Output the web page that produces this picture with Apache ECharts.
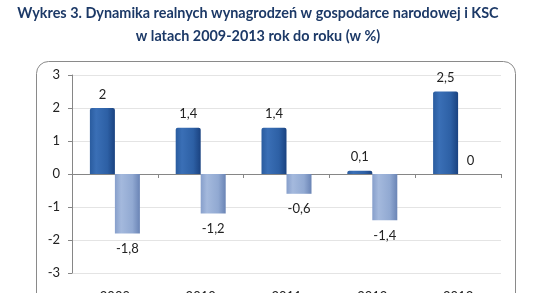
<!DOCTYPE html>
<html>
<head>
<meta charset="utf-8">
<script src="https://cdn.jsdelivr.net/npm/echarts@6/dist/echarts.min.js"></script>
<style>html,body{margin:0;padding:0;background:#fff}#c{width:556px;height:293px}</style>
</head>
<body>
<div id="c"></div>
<script>
var categories = ['2009', '2010', '2011', '2012', '2013'];
var gospodarka = [2, 1.4, 1.4, 0.1, 2.5];
var ksc = [-1.8, -1.2, -0.6, -1.4, 0];
var yTicks = [-3, -2, -1, 0, 1, 2, 3];
var titleLines = ['Wykres 3. Dynamika realnych wynagrodzeń w gospodarce narodowej i KSC', 'w latach 2009-2013 rok do roku (w %)'];

var chart = echarts.init(document.getElementById('c'));
function fmt(p){ return String(p.value).replace('.', ','); }
var font = 'Lato, Open Sans, sans-serif';
var titleStyle = { fontFamily: font, fontWeight: 'bold', fontSize: 14.4, fill: '#1c3967', textAlign: 'center', textVerticalAlign: 'middle' };
chart.setOption({
  animation: false,
  graphic: [{
    type: 'rect', left: 36, top: 61, z: -1,
    shape: { width: 479, height: 260, r: 12 },
    style: { fill: '#fff', stroke: '#8a8a8a', lineWidth: 1 }
  }, {
    type: 'text', x: 258, y: 13,
    style: Object.assign({ text: titleLines[0] }, titleStyle)
  }, {
    type: 'text', x: 258, y: 36,
    style: Object.assign({ text: titleLines[1] }, titleStyle)
  }],
  grid: { left: 72, right: 55, top: 75, bottom: 20, outerBoundsMode: 'none', containLabel: false },
  xAxis: [{
    type: 'category', data: categories,
    axisLine: { onZero: true, lineStyle: { color: '#868686' } },
    axisTick: { show: true, length: 4, lineStyle: { color: '#868686' } },
    axisLabel: { show: false }
  }, {
    type: 'category', data: categories, position: 'bottom',
    axisLine: { show: false, onZero: false }, axisTick: { show: false },
    axisLabel: { margin: 17, fontFamily: font, fontSize: 13, color: '#222' }
  }],
  yAxis: {
    type: 'value', min: yTicks[0], max: yTicks[yTicks.length - 1], interval: 1,
    axisLine: { show: true, lineStyle: { color: '#868686' } },
    axisTick: { show: true, length: 4, lineStyle: { color: '#868686' } },
    axisLabel: { margin: 12, fontFamily: font, fontSize: 13, color: '#222' },
    splitLine: { lineStyle: { color: '#e4e4e4' } }
  },
  series: [{
    name: 'Gospodarka narodowa', type: 'bar', data: gospodarka,
    barWidth: 25, barGap: '0%',
    itemStyle: {
      borderRadius: [2, 2, 0, 0],
      color: new echarts.graphic.LinearGradient(0, 0, 1, 0, [
        { offset: 0, color: '#2a5c9f' }, { offset: 0.25, color: '#3a6fb6' },
        { offset: 0.7, color: '#2d60a5' }, { offset: 1, color: '#1a4280' }])
    },
    label: { show: true, position: 'top', distance: 7, formatter: fmt, fontFamily: font, fontSize: 13, color: '#222' }
  }, {
    name: 'KSC', type: 'bar',
    data: ksc.map(function (v) {
      return v === 0 ? { value: v, label: { position: 'top', distance: 7 } } : v;
    }),
    barWidth: 25,
    itemStyle: {
      color: new echarts.graphic.LinearGradient(0, 0, 1, 0, [
        { offset: 0, color: '#879fcb' }, { offset: 0.25, color: '#a4b9dd' },
        { offset: 0.7, color: '#91a9d2' }, { offset: 1, color: '#6a84b5' }])
    },
    label: { show: true, position: 'bottom', distance: 9, formatter: fmt, fontFamily: font, fontSize: 13, color: '#222' }
  }]
});
</script>
</body>
</html>
